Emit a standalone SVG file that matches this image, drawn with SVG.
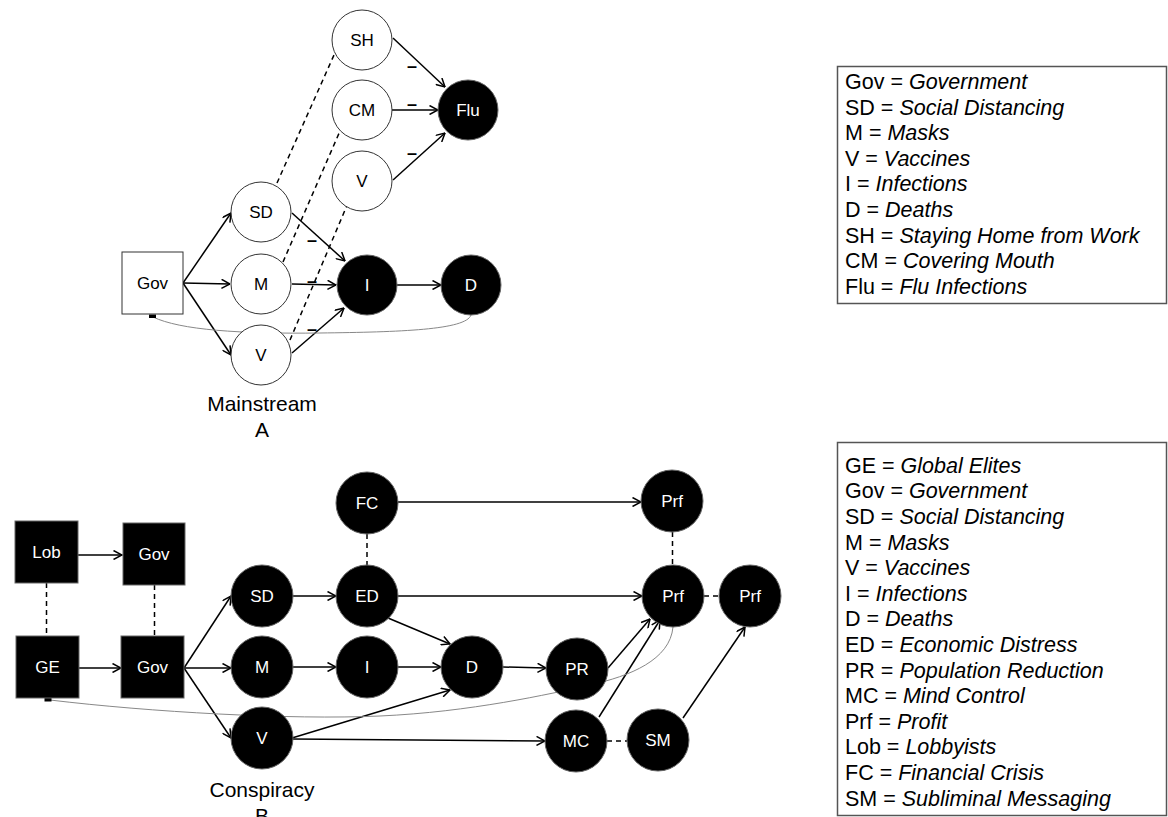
<svg xmlns="http://www.w3.org/2000/svg" width="1168" height="817" viewBox="0 0 1168 817">
<style>
.w{fill:#fff;stroke:#333;stroke-width:1}
.b{fill:#000;stroke:#666;stroke-width:1}
.tb{font-family:"Liberation Sans",Arial,sans-serif;font-size:17px;fill:#000;text-anchor:middle;dominant-baseline:central}
.tw{font-family:"Liberation Sans",Arial,sans-serif;font-size:17px;fill:#fff;text-anchor:middle;dominant-baseline:central}
.e{fill:none;stroke:#000;stroke-width:1.5;marker-end:url(#ah)}
.d{fill:none;stroke:#000;stroke-width:1.5;stroke-dasharray:5 4}
.g{fill:none;stroke:#888;stroke-width:1}
.mn{font-family:"Liberation Sans",Arial,sans-serif;font-size:18px;font-weight:bold;fill:#000;text-anchor:middle;dominant-baseline:central}
.cap{font-family:"Liberation Sans",Arial,sans-serif;font-size:21px;fill:#000;text-anchor:middle}
.lg{font-family:"Liberation Sans",Arial,sans-serif;font-size:21.5px;fill:#000}
.box{fill:#fff;stroke:#555;stroke-width:1.5}
</style>
<defs>
<marker id="ah" viewBox="0 0 10 10" refX="9.5" refY="5" markerWidth="10" markerHeight="10" markerUnits="userSpaceOnUse" orient="auto">
<path d="M1,0.5 L9.5,5 L1,9.5" fill="none" stroke="#000" stroke-width="1.5"/>
</marker>
</defs>
<rect width="1168" height="817" fill="#fff"/>

<g id="connectors">
<!-- top diagram -->
<path class="e" d="M183,283 L231,213"/>
<path class="e" d="M183,283 L230,284"/>
<path class="e" d="M183,283 L231,355"/>
<path class="e" d="M292,213 L345,261"/>
<path class="e" d="M292,284 L336,285"/>
<path class="e" d="M292,353 L344,308"/>
<path class="e" d="M397,285 L441,285"/>
<path class="e" d="M393,38 L445,87"/>
<path class="e" d="M392,110 L438,110"/>
<path class="e" d="M393,180 L445,133"/>
<path class="d" d="M277,183 L334,55"/>
<path class="d" d="M283,262 L340,131"/>
<path class="d" d="M290,340 L348,203"/>
<path class="g" d="M471,315 C466,330 400,332 320,333 S180,330 153,317"/>
<rect x="149" y="314.5" width="7" height="3.5" fill="#000"/>
<!-- bottom diagram -->
<path class="e" d="M78,555 L122,555"/>
<path class="e" d="M79,668 L121,668"/>
<path class="d" d="M46.5,583 L46.5,636"/>
<path class="d" d="M154.5,585 L154.5,636"/>
<path class="e" d="M184,668 L231,596"/>
<path class="e" d="M184,668 L231,668"/>
<path class="e" d="M184,668 L231,738"/>
<path class="e" d="M293,596 L336,596"/>
<path class="e" d="M293,667 L336,667"/>
<path class="e" d="M398,502 L641,502"/>
<path class="d" d="M367,534 L367,565"/>
<path class="e" d="M398,596 L642,596"/>
<path class="e" d="M388,618 L450,644"/>
<path class="e" d="M398,667 L441,667"/>
<path class="e" d="M292,738 L450,690"/>
<path class="e" d="M292,739 L545,741"/>
<path class="e" d="M503,667 L546,668"/>
<path class="e" d="M608,668 L650,619"/>
<path class="e" d="M599,717 L660,620"/>
<path class="e" d="M683,718 L745,627"/>
<path class="d" d="M607,741 L627,741"/>
<path class="d" d="M704,596 L719,596"/>
<path class="d" d="M672.5,532 L672.5,565"/>
<path class="g" d="M673,627 C670,660 630,676 590,685 S470,712 380,716 S150,712 50,700"/>
<rect x="44.5" y="698" width="7" height="3.5" fill="#000"/>
<!-- minus labels -->
<text class="mn" x="412" y="66">–</text>
<text class="mn" x="412" y="104">–</text>
<text class="mn" x="412" y="153">–</text>
<text class="mn" x="312" y="240">–</text>
<text class="mn" x="312" y="281">–</text>
<text class="mn" x="312" y="329">–</text>
</g>

<!-- top diagram nodes -->
<g id="a-gov"><rect class="w" x="122" y="252" width="61" height="62"/><text class="tb" x="152.5" y="283">Gov</text></g>
<g id="a-sd"><circle class="w" cx="261" cy="212" r="30"/><text class="tb" x="261" y="212">SD</text></g>
<g id="a-m"><circle class="w" cx="261" cy="284" r="30"/><text class="tb" x="261" y="284">M</text></g>
<g id="a-v"><circle class="w" cx="261" cy="355" r="30"/><text class="tb" x="261" y="355">V</text></g>
<g id="a-i"><circle class="b" cx="367" cy="285" r="30"/><text class="tw" x="367" y="285">I</text></g>
<g id="a-d"><circle class="b" cx="471" cy="285" r="30"/><text class="tw" x="471" y="285">D</text></g>
<g id="a-sh"><circle class="w" cx="362" cy="40" r="30"/><text class="tb" x="362" y="40">SH</text></g>
<g id="a-cm"><circle class="w" cx="362" cy="110" r="30"/><text class="tb" x="362" y="110">CM</text></g>
<g id="a-v2"><circle class="w" cx="362" cy="181" r="30"/><text class="tb" x="362" y="181">V</text></g>
<g id="a-flu"><circle class="b" cx="468" cy="110" r="30"/><text class="tw" x="468" y="110">Flu</text></g>
<g id="a-caption"><text class="cap" x="262" y="411">Mainstream</text><text class="cap" x="262" y="437">A</text></g>

<!-- bottom diagram nodes -->
<g id="b-lob"><rect class="b" x="15" y="521" width="63" height="62"/><text class="tw" x="46.5" y="552">Lob</text></g>
<g id="b-gov1"><rect class="b" x="123" y="523" width="62" height="62"/><text class="tw" x="154" y="554">Gov</text></g>
<g id="b-ge"><rect class="b" x="16" y="636" width="63" height="62"/><text class="tw" x="47.5" y="667">GE</text></g>
<g id="b-gov2"><rect class="b" x="121" y="636" width="63" height="62"/><text class="tw" x="152.5" y="667">Gov</text></g>
<g id="b-sd"><circle class="b" cx="262" cy="596" r="31"/><text class="tw" x="262" y="596">SD</text></g>
<g id="b-m"><circle class="b" cx="262" cy="667" r="31"/><text class="tw" x="262" y="667">M</text></g>
<g id="b-v"><circle class="b" cx="262" cy="738" r="31"/><text class="tw" x="262" y="738">V</text></g>
<g id="b-fc"><circle class="b" cx="367" cy="503" r="31"/><text class="tw" x="367" y="503">FC</text></g>
<g id="b-ed"><circle class="b" cx="367" cy="596" r="31"/><text class="tw" x="367" y="596">ED</text></g>
<g id="b-i"><circle class="b" cx="367" cy="667" r="31"/><text class="tw" x="367" y="667">I</text></g>
<g id="b-d"><circle class="b" cx="472" cy="667" r="31"/><text class="tw" x="472" y="667">D</text></g>
<g id="b-pr"><circle class="b" cx="577" cy="669" r="31"/><text class="tw" x="577" y="669">PR</text></g>
<g id="b-mc"><circle class="b" cx="576" cy="741" r="31"/><text class="tw" x="576" y="741">MC</text></g>
<g id="b-sm"><circle class="b" cx="658" cy="740" r="31"/><text class="tw" x="658" y="740">SM</text></g>
<g id="b-prf1"><circle class="b" cx="672" cy="501" r="31"/><text class="tw" x="672" y="501">Prf</text></g>
<g id="b-prf2"><circle class="b" cx="673" cy="596" r="31"/><text class="tw" x="673" y="596">Prf</text></g>
<g id="b-prf3"><circle class="b" cx="750" cy="596" r="31"/><text class="tw" x="750" y="596">Prf</text></g>
<g id="b-caption"><text class="cap" x="262" y="797">Conspiracy</text><text class="cap" x="262" y="823">B</text></g>

<!-- legends -->
<g id="legend-a">
<rect class="box" x="837.5" y="66.5" width="329" height="237"/>
<text class="lg" x="845" y="89">Gov = <tspan font-style="italic">Government</tspan></text>
<text class="lg" x="845" y="114.6">SD = <tspan font-style="italic">Social Distancing</tspan></text>
<text class="lg" x="845" y="140.2">M = <tspan font-style="italic">Masks</tspan></text>
<text class="lg" x="845" y="165.8">V = <tspan font-style="italic">Vaccines</tspan></text>
<text class="lg" x="845" y="191.4">I = <tspan font-style="italic">Infections</tspan></text>
<text class="lg" x="845" y="217">D = <tspan font-style="italic">Deaths</tspan></text>
<text class="lg" x="845" y="242.6">SH = <tspan font-style="italic">Staying Home from Work</tspan></text>
<text class="lg" x="845" y="268.2">CM = <tspan font-style="italic">Covering Mouth</tspan></text>
<text class="lg" x="845" y="293.8">Flu = <tspan font-style="italic">Flu Infections</tspan></text>
</g>
<g id="legend-b">
<rect class="box" x="837.5" y="442.5" width="329" height="373"/>
<text class="lg" x="845" y="472.7">GE = <tspan font-style="italic">Global Elites</tspan></text>
<text class="lg" x="845" y="498.3">Gov = <tspan font-style="italic">Government</tspan></text>
<text class="lg" x="845" y="523.9">SD = <tspan font-style="italic">Social Distancing</tspan></text>
<text class="lg" x="845" y="549.5">M = <tspan font-style="italic">Masks</tspan></text>
<text class="lg" x="845" y="575.1">V = <tspan font-style="italic">Vaccines</tspan></text>
<text class="lg" x="845" y="600.7">I = <tspan font-style="italic">Infections</tspan></text>
<text class="lg" x="845" y="626.3">D = <tspan font-style="italic">Deaths</tspan></text>
<text class="lg" x="845" y="651.9">ED = <tspan font-style="italic">Economic Distress</tspan></text>
<text class="lg" x="845" y="677.5">PR = <tspan font-style="italic">Population Reduction</tspan></text>
<text class="lg" x="845" y="703.1">MC = <tspan font-style="italic">Mind Control</tspan></text>
<text class="lg" x="845" y="728.7">Prf = <tspan font-style="italic">Profit</tspan></text>
<text class="lg" x="845" y="754.3">Lob = <tspan font-style="italic">Lobbyists</tspan></text>
<text class="lg" x="845" y="779.9">FC = <tspan font-style="italic">Financial Crisis</tspan></text>
<text class="lg" x="845" y="805.5">SM = <tspan font-style="italic">Subliminal Messaging</tspan></text>
</g>
</svg>
